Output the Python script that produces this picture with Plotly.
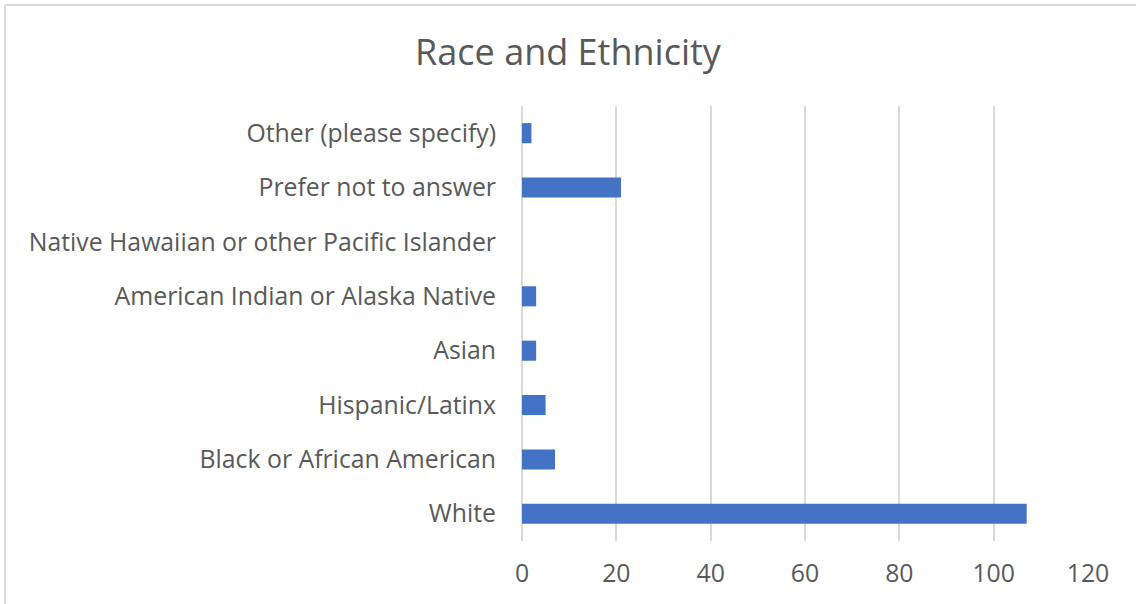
import plotly.graph_objects as go

categories = [
    "White",
    "Black or African American",
    "Hispanic/Latinx",
    "Asian",
    "American Indian or Alaska Native",
    "Native Hawaiian or other Pacific Islander",
    "Prefer not to answer",
    "Other (please specify)",
]
counts = [107, 7, 5, 3, 3, 0, 21, 2]
x_ticks = [0, 20, 40, 60, 80, 100, 120]

W, H = 1136, 604
ML, MR, MT, MB = 522, 48, 106, 63
pw, ph = W - ML - MR, H - MT - MB

text_color = "#595959"
grid_color = "#d9d9d9"
font_family = "Open Sans, Noto Sans, sans-serif"

fig = go.Figure(
    go.Bar(
        x=counts,
        y=categories,
        orientation="h",
        marker=dict(color="#4472C4", line=dict(width=0)),
        hoverinfo="x+y",
    )
)

bx0 = (5 - ML) / pw
by1 = (H - MB - 5) / ph

fig.update_layout(
    width=W,
    height=H,
    margin=dict(l=ML, r=MR, t=MT, b=MB),
    paper_bgcolor="white",
    plot_bgcolor="white",
    bargap=0.63,
    showlegend=False,
    title=dict(
        text="Race and Ethnicity",
        x=0.5,
        xanchor="center",
        y=1 - 52 / H,
        yanchor="middle",
        font=dict(family=font_family, size=36, color=text_color),
    ),
    xaxis=dict(
        range=[0, 120],
        tickvals=x_ticks,
        ticktext=[str(v) for v in x_ticks],
        showgrid=True,
        gridcolor=grid_color,
        gridwidth=2,
        zeroline=True,
        zerolinecolor=grid_color,
        zerolinewidth=2,
        showline=False,
        ticks="",
        ticklabelstandoff=15,
        tickfont=dict(family=font_family, size=24.8, color=text_color),
        fixedrange=True,
    ),
    yaxis=dict(
        categoryorder="array",
        categoryarray=categories,
        showgrid=False,
        zeroline=False,
        showline=False,
        ticks="",
        ticklabelstandoff=25,
        tickfont=dict(family=font_family, size=24.8, color=text_color),
        fixedrange=True,
    ),
    shapes=[
        dict(type="line", xref="paper", yref="paper", x0=bx0, x1=bx0, y0=by1, y1=-1,
             line=dict(color=grid_color, width=2)),
        dict(type="line", xref="paper", yref="paper", x0=bx0, x1=3, y0=by1, y1=by1,
             line=dict(color=grid_color, width=2)),
    ],
)

fig.write_html(
    "out.html",
    config={"displayModeBar": False},
    post_script="document.body.style.margin='0';document.body.style.overflow='hidden';",
)
